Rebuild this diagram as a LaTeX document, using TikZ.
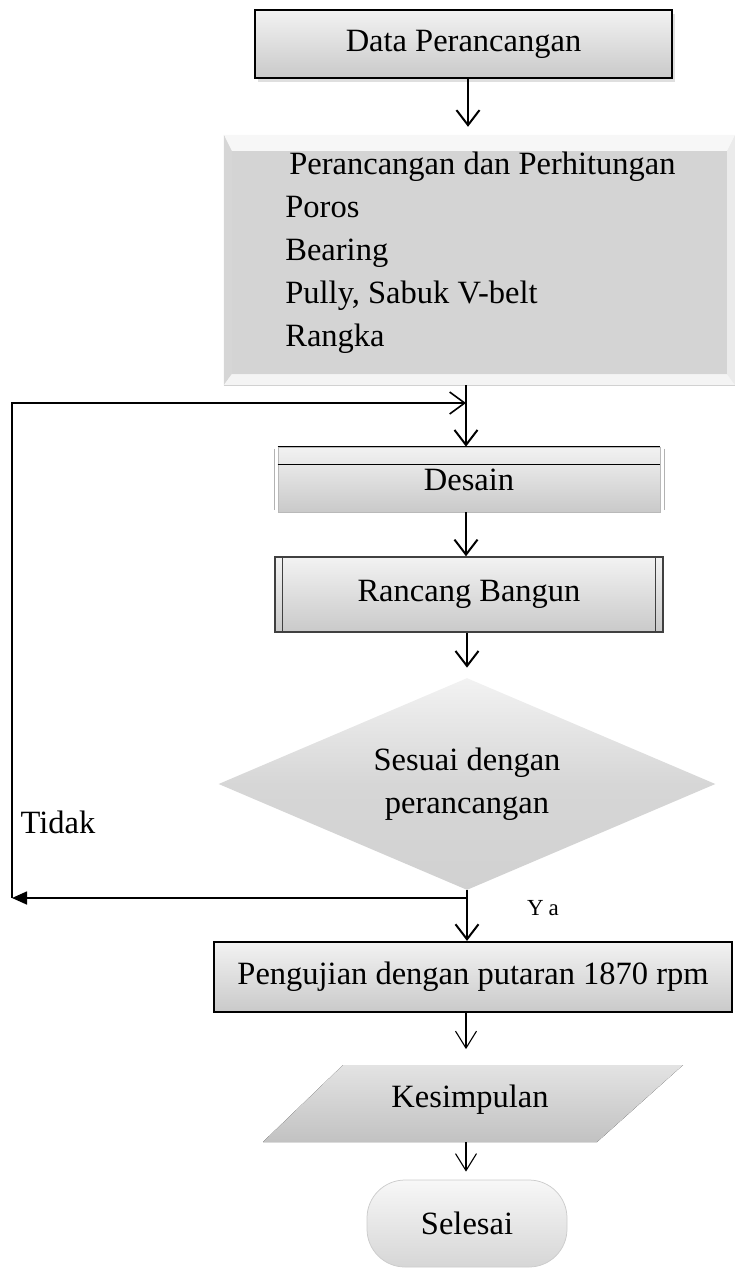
\documentclass[tikz,border=0pt]{standalone}
\usepackage{fontspec}
\setmainfont{Liberation Serif}
\usetikzlibrary{arrows.meta,shapes.geometric,shadows,calc}

\tikzset{every picture/.style={line width=0.75pt}}
\tikzset{
  flow/.style={line width=2pt,-{Straight Barb[length=15pt,width=23pt,line width=2pt]}},
  thinflow/.style={line width=1.1pt,-{Straight Barb[length=17pt,width=21pt,line width=1.1pt]}},
  loopline/.style={line width=1.6pt},
  boxtext/.style={font=\fontsize{32.5}{43}\selectfont},
  procbox/.style={rectangle,boxtext,top color=gray!10,bottom color=gray!42,inner sep=0pt},
}

\begin{document}
\begin{tikzpicture}[x=1pt,y=1pt,yscale=-1,xscale=1]
%set diagram size: 735 x 1270
\useasboundingbox (0,0) rectangle (735,1270);

% Data Perancangan
\node[procbox,draw=black,line width=2.5pt,minimum width=417pt,minimum height=68pt,drop shadow={opacity=0.25,shadow xshift=3pt,shadow yshift=-4pt}] (data) at (463.5,44) {Data Perancangan};

% Perancangan dan Perhitungan (bevel box)
\node[rectangle,fill=gray!14,draw=gray!50,line width=0.5pt,minimum width=511pt,minimum height=250pt] (calc) at (479.5,260) {};
\fill[gray!6] (calc.north west) -- (calc.north east) -- ($(calc.north east)+(-8,16)$) -- ($(calc.north west)+(8,16)$) -- cycle;
\fill[gray!32] (calc.north west) -- ($(calc.north west)+(8,16)$) -- ($(calc.south west)+(8,-11)$) -- (calc.south west) -- cycle;
\fill[gray!9] (calc.south west) -- ($(calc.south west)+(8,-11)$) -- ($(calc.south east)+(-8,-11)$) -- (calc.south east) -- cycle;
\fill[gray!16] (calc.north east) -- ($(calc.north east)+(-8,16)$) -- ($(calc.south east)+(-8,-11)$) -- (calc.south east) -- cycle;
\fill[gray!34] ($(calc.north west)+(8,16)$) rectangle ($(calc.south east)+(-8,-11)$);
% Text Node
\node[boxtext,align=left,anchor=west,inner sep=0pt] (calctext) at (285,253) {\hspace*{4pt}Perancangan dan Perhitungan\\Poros\\Bearing\\Pully, Sabuk V-belt\\Rangka};

% Desain
\node[procbox,draw=gray!55,line width=0.8pt,minimum width=382pt,minimum height=65pt] (desain) at (469,479.5) {Desain};
\draw[line width=1.5pt] (desain.north west) -- (desain.north east);
\draw[line width=1.5pt] ($(desain.north west)+(0,18)$) -- ($(desain.north east)+(0,18)$);
\draw[gray!60,line width=1pt] ($(desain.north west)+(-3,2)$) -- ($(desain.south west)+(-3,-2)$);
\draw[gray!60,line width=1pt] ($(desain.north east)+(4,2)$) -- ($(desain.south east)+(4,-2)$);

% Rancang Bangun
\node[procbox,draw=black!75,line width=1.5pt,minimum width=388pt,minimum height=75pt] (rancang) at (469,594.5) {Rancang Bangun};
\draw[black!75,line width=1pt] ($(rancang.north west)+(8,0)$) -- ($(rancang.south west)+(8,0)$);
\draw[black!75,line width=1pt] ($(rancang.north east)+(-8,0)$) -- ($(rancang.south east)+(-8,0)$);

% Sesuai dengan perancangan
\node[diamond,boxtext,align=center,inner sep=0pt,shape aspect=2.3,minimum width=497pt,minimum height=212pt,top color=gray!10,bottom color=gray!36,middle color=gray!32] (dec) at (467,784) {Sesuai dengan\\perancangan};

% Pengujian
\node[procbox,draw=black,line width=2.2pt,minimum width=518pt,minimum height=70pt] (uji) at (473,977) {Pengujian dengan putaran 1870 rpm};

% Kesimpulan
\fill[top color=gray!22,bottom color=gray!48] (343,1065) -- (683,1065) -- (597,1142) -- (263,1142) -- cycle;
\node[boxtext,minimum width=250pt,minimum height=77pt,inner sep=0pt] (kes) at (470,1100) {Kesimpulan};

% Selesai
\node[boxtext,rectangle,rounded corners=38pt,top color=gray!6,bottom color=gray!32,draw=gray!40,minimum width=200pt,minimum height=87pt] (sel) at (467,1223.5) {Selesai};

% Text Node
\node[boxtext] (tidak) at (58,822) {Tidak};
% Text Node
\node[font=\fontsize{23}{28}\selectfont] (ya) at (543,908) {Y\hspace{5pt}a};

% loop corners
\coordinate (jTop) at (466,403);
\coordinate (jBot) at (467,898);
\coordinate (cTL) at (12,403);
\coordinate (cBL) at (12,898);

% Arrows
\draw[flow,shorten >=8pt] ([xshift=4.5pt]data.south) -- ([xshift=4.5pt]data.south |- calc.north);
\draw[flow] (calc.south -| jTop) -- (desain.north -| jTop);
\draw[flow] (desain.south -| jTop) -- (rancang.north -| jTop);
\draw[flow,shorten >=10pt] (rancang.south -| dec.north) -- (dec.north);
\draw[flow] (dec.south) -- (uji.north -| dec.south);
\draw[loopline,-{Triangle[length=15pt,width=13pt]}] (jBot) -- (cBL);
\draw[loopline,-{Straight Barb[length=15pt,width=22pt,line width=1.6pt]}] (cBL) -- (cTL) -- (jTop);
\draw[thinflow,shorten >=12pt] (uji.south -| jTop) -- (kes.north -| jTop);
\draw[thinflow,shorten >=8pt] ([yshift=3.5pt]kes.south -| jTop) -- (sel.north -| jTop);

\end{tikzpicture}
\end{document}
